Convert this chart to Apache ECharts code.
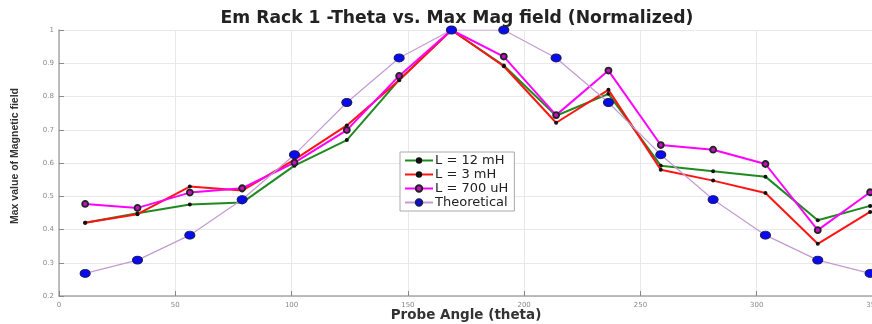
<!DOCTYPE html>
<html>
<head>
<meta charset="utf-8">
<script src="https://cdn.jsdelivr.net/npm/echarts@6/dist/echarts.min.js"></script>
<style>
  html, body { margin: 0; padding: 0; background: #fff; }
  #chart { width: 872px; height: 324px; }
</style>
</head>
<body>
<div id="chart"></div>
<script>
// probe angles (deg)
const angles = [11.25, 33.75, 56.25, 78.75, 101.25, 123.75, 146.25, 168.75,
  191.25, 213.75, 236.25, 258.75, 281.25, 303.75, 326.25, 348.75];

const l12mH = [0.42, 0.449, 0.475, 0.481, 0.592, 0.669, 0.85, 1.0,
  0.893, 0.742, 0.808, 0.592, 0.575, 0.559, 0.428, 0.471];
const l3mH = [0.42, 0.446, 0.529, 0.517, 0.61, 0.713, 0.849, 1.0,
  0.891, 0.721, 0.82, 0.58, 0.547, 0.51, 0.357, 0.453];
const l700uH = [0.477, 0.465, 0.511, 0.524, 0.601, 0.699, 0.862, 1.0,
  0.92, 0.744, 0.878, 0.654, 0.64, 0.597, 0.398, 0.512];
const theoretical = [0.268, 0.308, 0.383, 0.49, 0.625, 0.782, 0.916, 1.0,
  1.0, 0.916, 0.782, 0.625, 0.49, 0.383, 0.308, 0.268];

const seriesNames = ["L = 12 mH", "L = 3 mH", "L = 700 uH", "Theoretical"];

const pairs = (ys) => angles.map((a, i) => [a, ys[i]]);

const chart = echarts.init(document.getElementById("chart"));

const option = {
  animation: false,
  title: {
    text: "Em Rack 1 -Theta vs. Max Mag field (Normalized)",
    left: 452,
    top: 5,
    textAlign: "center",
    textStyle: {
      fontFamily: "DejaVu Sans",
      fontSize: 17.2,
      fontWeight: "bold",
      color: "#222",
    },
  },
  legend: {
    data: seriesNames,
    orient: "vertical",
    left: 400,
    top: 152,
    padding: [2, 6, 2, 4],
    itemGap: 1,
    itemWidth: 28,
    itemHeight: 8,
    backgroundColor: "#fff",
    borderColor: "#aaa",
    borderWidth: 1,
    borderRadius: 0,
    textStyle: {
      fontFamily: "DejaVu Sans",
      fontSize: 13,
      lineHeight: 13,
      color: "#222",
      padding: [0, 0, 0, -3],
    },
  },
  grid: {
    left: 59,
    right: -1,
    top: 30,
    bottom: 28,
    outerBoundsMode: "none",
  },
  xAxis: {
    type: "value",
    min: 0,
    max: 350,
    interval: 50,
    name: "Probe Angle (theta)",
    nameLocation: "middle",
    nameGap: 12,
    nameMoveOverlap: false,
    nameTextStyle: {
      fontFamily: "DejaVu Sans",
      fontSize: 13.5,
      fontWeight: "bold",
      color: "#333",
    },
    axisLine: { lineStyle: { color: "#a8a8a8", width: 1.5 } },
    axisTick: { inside: true, length: 5, lineStyle: { color: "#888" } },
    axisLabel: {
      fontFamily: "DejaVu Sans",
      fontSize: 7,
      color: "#888",
      margin: 6,
    },
    splitLine: { show: true, lineStyle: { color: "#e8e8e8", width: 1 } },
  },
  yAxis: {
    type: "value",
    min: 0.2,
    max: 1,
    interval: 0.1,
    name: "Max value of Magnetic field",
    nameLocation: "middle",
    nameGap: 38,
    nameMoveOverlap: false,
    nameTextStyle: {
      fontFamily: "Liberation Sans",
      fontSize: 10.5,
      fontWeight: "bold",
      color: "#333",
      padding: [0, 0, 0, 14],
    },
    axisLine: { show: true, lineStyle: { color: "#a8a8a8", width: 1.5 } },
    axisTick: { show: true, inside: true, length: 5, lineStyle: { color: "#888" } },
    axisLabel: {
      fontFamily: "DejaVu Sans",
      fontSize: 7,
      color: "#888",
      margin: 5,
    },
    splitLine: { show: true, lineStyle: { color: "#e8e8e8", width: 1 } },
  },
  series: [
    {
      name: seriesNames[0],
      type: "line",
      data: pairs(l12mH),
      symbol: "circle",
      symbolSize: 4,
      lineStyle: { color: "#1f8a1f", width: 2 },
      itemStyle: { color: "#111" },
      z: 2,
    },
    {
      name: seriesNames[1],
      type: "line",
      data: pairs(l3mH),
      symbol: "circle",
      symbolSize: 4,
      lineStyle: { color: "#ff1414", width: 2 },
      itemStyle: { color: "#111" },
      z: 3,
    },
    {
      name: seriesNames[2],
      type: "line",
      data: pairs(l700uH),
      symbol: "circle",
      symbolSize: 6,
      lineStyle: { color: "#ff00ff", width: 2 },
      itemStyle: { color: "#c010c0", borderColor: "#222", borderWidth: 1.8 },
      z: 4,
    },
    {
      name: seriesNames[3],
      type: "line",
      data: pairs(theoretical),
      symbol: "circle",
      symbolSize: [10, 8],
      lineStyle: { color: "#c39bd3", width: 1.2 },
      itemStyle: { color: "#0a0aee", borderColor: "#1a1a60", borderWidth: 1 },
      z: 5,
    },
  ],
};

chart.setOption(option);
</script>
</body>
</html>
